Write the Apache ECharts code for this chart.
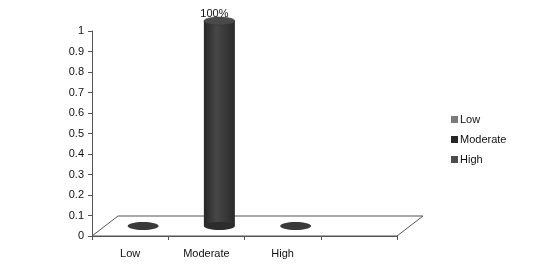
<!DOCTYPE html>
<html>
<head>
<meta charset="utf-8">
<script src="https://cdn.jsdelivr.net/npm/echarts@6/dist/echarts.min.js"></script>
<style>html,body{margin:0;padding:0;background:#fff}#c{width:542px;height:273px}</style>
</head>
<body>
<div id="c"></div>
<script>
var categories = ['Low', 'Moderate', 'High', ''];
var seriesNames = ['Low', 'Moderate', 'High'];
var lowValues = [0];
var moderateValues = [1];
var highValues = [0];
var yTicks = [0, 0.1, 0.2, 0.3, 0.4, 0.5, 0.6, 0.7, 0.8, 0.9, 1];

var DX = 13, DY = -10, RX = 15.5, RY = 4;
var FONT = 'Liberation Sans';

function cylinder(params, api) {
  var cat = api.value(0), v = api.value(1);
  var base = api.coord([cat, 0]);
  var top = api.coord([cat, v]);
  var cx = base[0] + DX, by = base[1] + DY, ty = top[1] + DY;
  var children = [];
  if (v > 0) {
    children.push({
      type: 'rect',
      shape: { x: cx - RX, y: ty, width: RX * 2, height: by - ty },
      style: { fill: new echarts.graphic.LinearGradient(0, 0, 1, 0, [
        { offset: 0, color: '#262626' }, { offset: 0.4, color: '#474747' }, { offset: 1, color: '#2a2a2a' }]) }
    });
    children.push({
      type: 'ellipse',
      shape: { cx: cx, cy: by, rx: RX, ry: RY },
      style: { fill: '#2c2c2c' }
    });
    children.push({
      type: 'ellipse',
      shape: { cx: cx, cy: ty, rx: RX, ry: RY },
      style: { fill: '#4a4a4a', stroke: '#333', lineWidth: 0.5 }
    });
    children.push({
      type: 'text',
      style: { text: Math.round(v * 100) + '%', x: cx - 5, y: ty - 7, align: 'center', verticalAlign: 'middle',
        fill: '#111', font: '11px "' + FONT + '"' }
    });
  } else {
    children.push({
      type: 'ellipse',
      shape: { cx: cx, cy: by, rx: RX, ry: RY },
      style: { fill: '#3a3a3a' }
    });
  }
  return { type: 'group', children: children };
}

function floor(params, api) {
  var cs = params.coordSys;
  var y0 = api.coord([0, 0])[1];
  var x0 = cs.x, x1 = cs.x + cs.width;
  return {
    type: 'polygon',
    shape: { points: [[x0, y0], [x0 + 2 * DX, y0 + 2 * DY], [x1 + 2 * DX, y0 + 2 * DY], [x1, y0]] },
    style: { fill: '#fff', stroke: '#555', lineWidth: 1 }
  };
}

var chart = echarts.init(document.getElementById('c'));
chart.setOption({
  animation: false,
  backgroundColor: '#fff',
  grid: { left: 92, right: 145, top: 31, bottom: 37 },
  legend: {
    data: seriesNames,
    orient: 'vertical',
    left: 446, top: 109,
    itemWidth: 7, itemHeight: 7, itemGap: 9,
    icon: 'rect',
    textStyle: { fontSize: 11, color: '#111', fontFamily: FONT, padding: [0, 0, 0, -3] }
  },
  xAxis: {
    type: 'category',
    data: categories,
    axisLine: { lineStyle: { color: '#555' } },
    axisTick: { show: true, length: 4, lineStyle: { color: '#555' } },
    axisLabel: { color: '#111', fontSize: 11, fontFamily: FONT, margin: 12 }
  },
  yAxis: {
    type: 'value',
    min: yTicks[0], max: yTicks[yTicks.length - 1], interval: 0.1,
    splitLine: { show: false },
    axisLine: { show: true, lineStyle: { color: '#555' } },
    axisTick: { show: true, length: 4, lineStyle: { color: '#555' } },
    axisLabel: { color: '#111', fontSize: 11, fontFamily: FONT, margin: 8,
      formatter: function (v) { return String(Math.round(v * 10) / 10); } }
  },
  series: [
    { type: 'custom', name: 'floor', renderItem: floor, data: [[0, 0]], z: 1, silent: true },
    { type: 'custom', name: seriesNames[0], renderItem: cylinder, itemStyle: { color: '#7b7b7b' }, data: lowValues.map(function (v) { return [0, v]; }), z: 3 },
    { type: 'custom', name: seriesNames[1], renderItem: cylinder, itemStyle: { color: '#262626' }, data: moderateValues.map(function (v) { return [1, v]; }), z: 3 },
    { type: 'custom', name: seriesNames[2], renderItem: cylinder, itemStyle: { color: '#4d4d4d' }, data: highValues.map(function (v) { return [2, v]; }), z: 3 }
  ]
});
</script>
</body>
</html>
